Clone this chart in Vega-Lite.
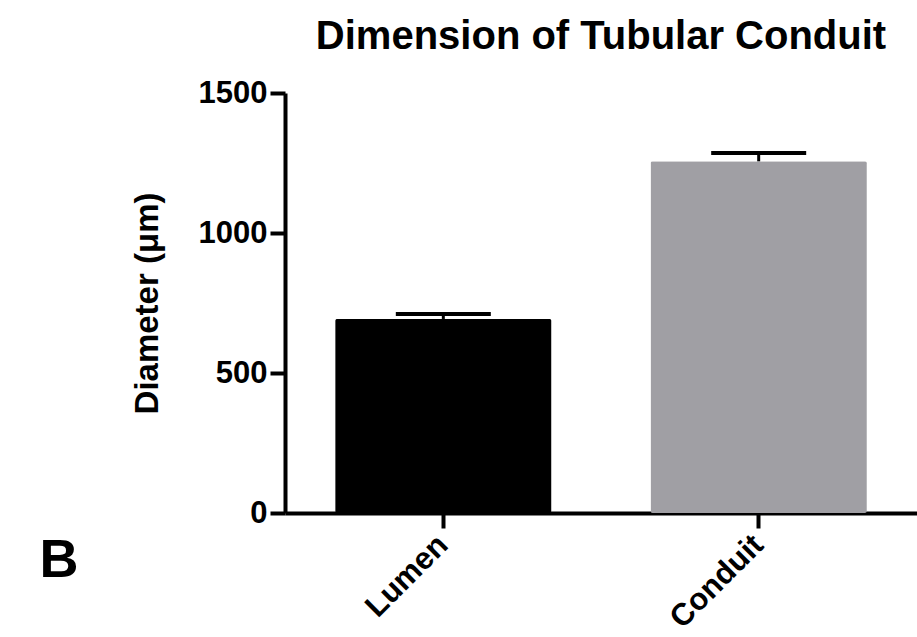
{
  "$schema": "https://vega.github.io/schema/vega-lite/v6.json",
  "autosize": {"type": "none"},
  "padding": {"left": 285, "top": 93, "right": 0, "bottom": 124},
  "width": 632,
  "height": 420,
  "background": "white",
  "title": {
    "text": "Dimension of Tubular Conduit",
    "font": "Liberation Sans",
    "fontWeight": "bold",
    "fontSize": 40,
    "color": "black",
    "anchor": "middle",
    "offset": 20
  },
  "data": {
    "values": [
      {"group": "Lumen", "mean": 693, "upper": 711},
      {"group": "Conduit", "mean": 1256, "upper": 1286}
    ]
  },
  "encoding": {
    "x": {
      "field": "group",
      "type": "nominal",
      "sort": ["Lumen", "Conduit"],
      "scale": {"paddingInner": 0.314, "paddingOuter": 0.159},
      "axis": {
        "title": "B",
        "titleFont": "Liberation Sans",
        "titleFontWeight": "bold",
        "titleFontSize": 54,
        "titleColor": "black",
        "titleX": -246,
        "titleY": 63,
        "titleAlign": "left",
        "titleBaseline": "alphabetic",
        "titleAnchor": "start",
        "labelAngle": -45,
        "labelAlign": "right",
        "labelBaseline": "middle",
        "labelFont": "Liberation Sans",
        "labelFontWeight": "bold",
        "labelFontSize": 31,
        "labelColor": "black",
        "labelPadding": 12,
        "domainColor": "black",
        "domainWidth": 4,
        "tickColor": "black",
        "tickWidth": 4,
        "tickSize": 15,
        "grid": false
      }
    }
  },
  "layer": [
    {
      "mark": {"type": "bar", "cornerRadius": 2},
      "encoding": {
        "y": {
          "field": "mean",
          "type": "quantitative",
          "scale": {"domain": [0, 1500], "nice": false},
          "axis": {
            "title": "Diameter (μm)",
            "titleFont": "Liberation Sans",
            "titleFontWeight": "bold",
            "titleFontSize": 33,
            "titleColor": "black",
            "titlePadding": 34,
            "values": [0, 500, 1000, 1500],
            "format": "d",
            "labelFont": "Liberation Sans",
            "labelFontWeight": "bold",
            "labelFontSize": 31,
            "labelColor": "black",
            "labelPadding": 3,
            "domainColor": "black",
            "domainWidth": 4,
            "tickColor": "black",
            "tickWidth": 4,
            "tickSize": 15,
            "grid": false
          }
        },
        "color": {
          "field": "group",
          "type": "nominal",
          "scale": {"domain": ["Lumen", "Conduit"], "range": ["#000000", "#a09fa4"]},
          "legend": null
        }
      }
    },
    {
      "mark": {"type": "rule", "color": "black", "strokeWidth": 3, "opacity": 1},
      "encoding": {
        "y": {"field": "mean", "type": "quantitative"},
        "y2": {"field": "upper"}
      }
    },
    {
      "mark": {"type": "tick", "color": "black", "thickness": 4, "size": 95, "opacity": 1},
      "encoding": {
        "y": {"field": "upper", "type": "quantitative"}
      }
    }
  ],
  "config": {"view": {"stroke": null}}
}
